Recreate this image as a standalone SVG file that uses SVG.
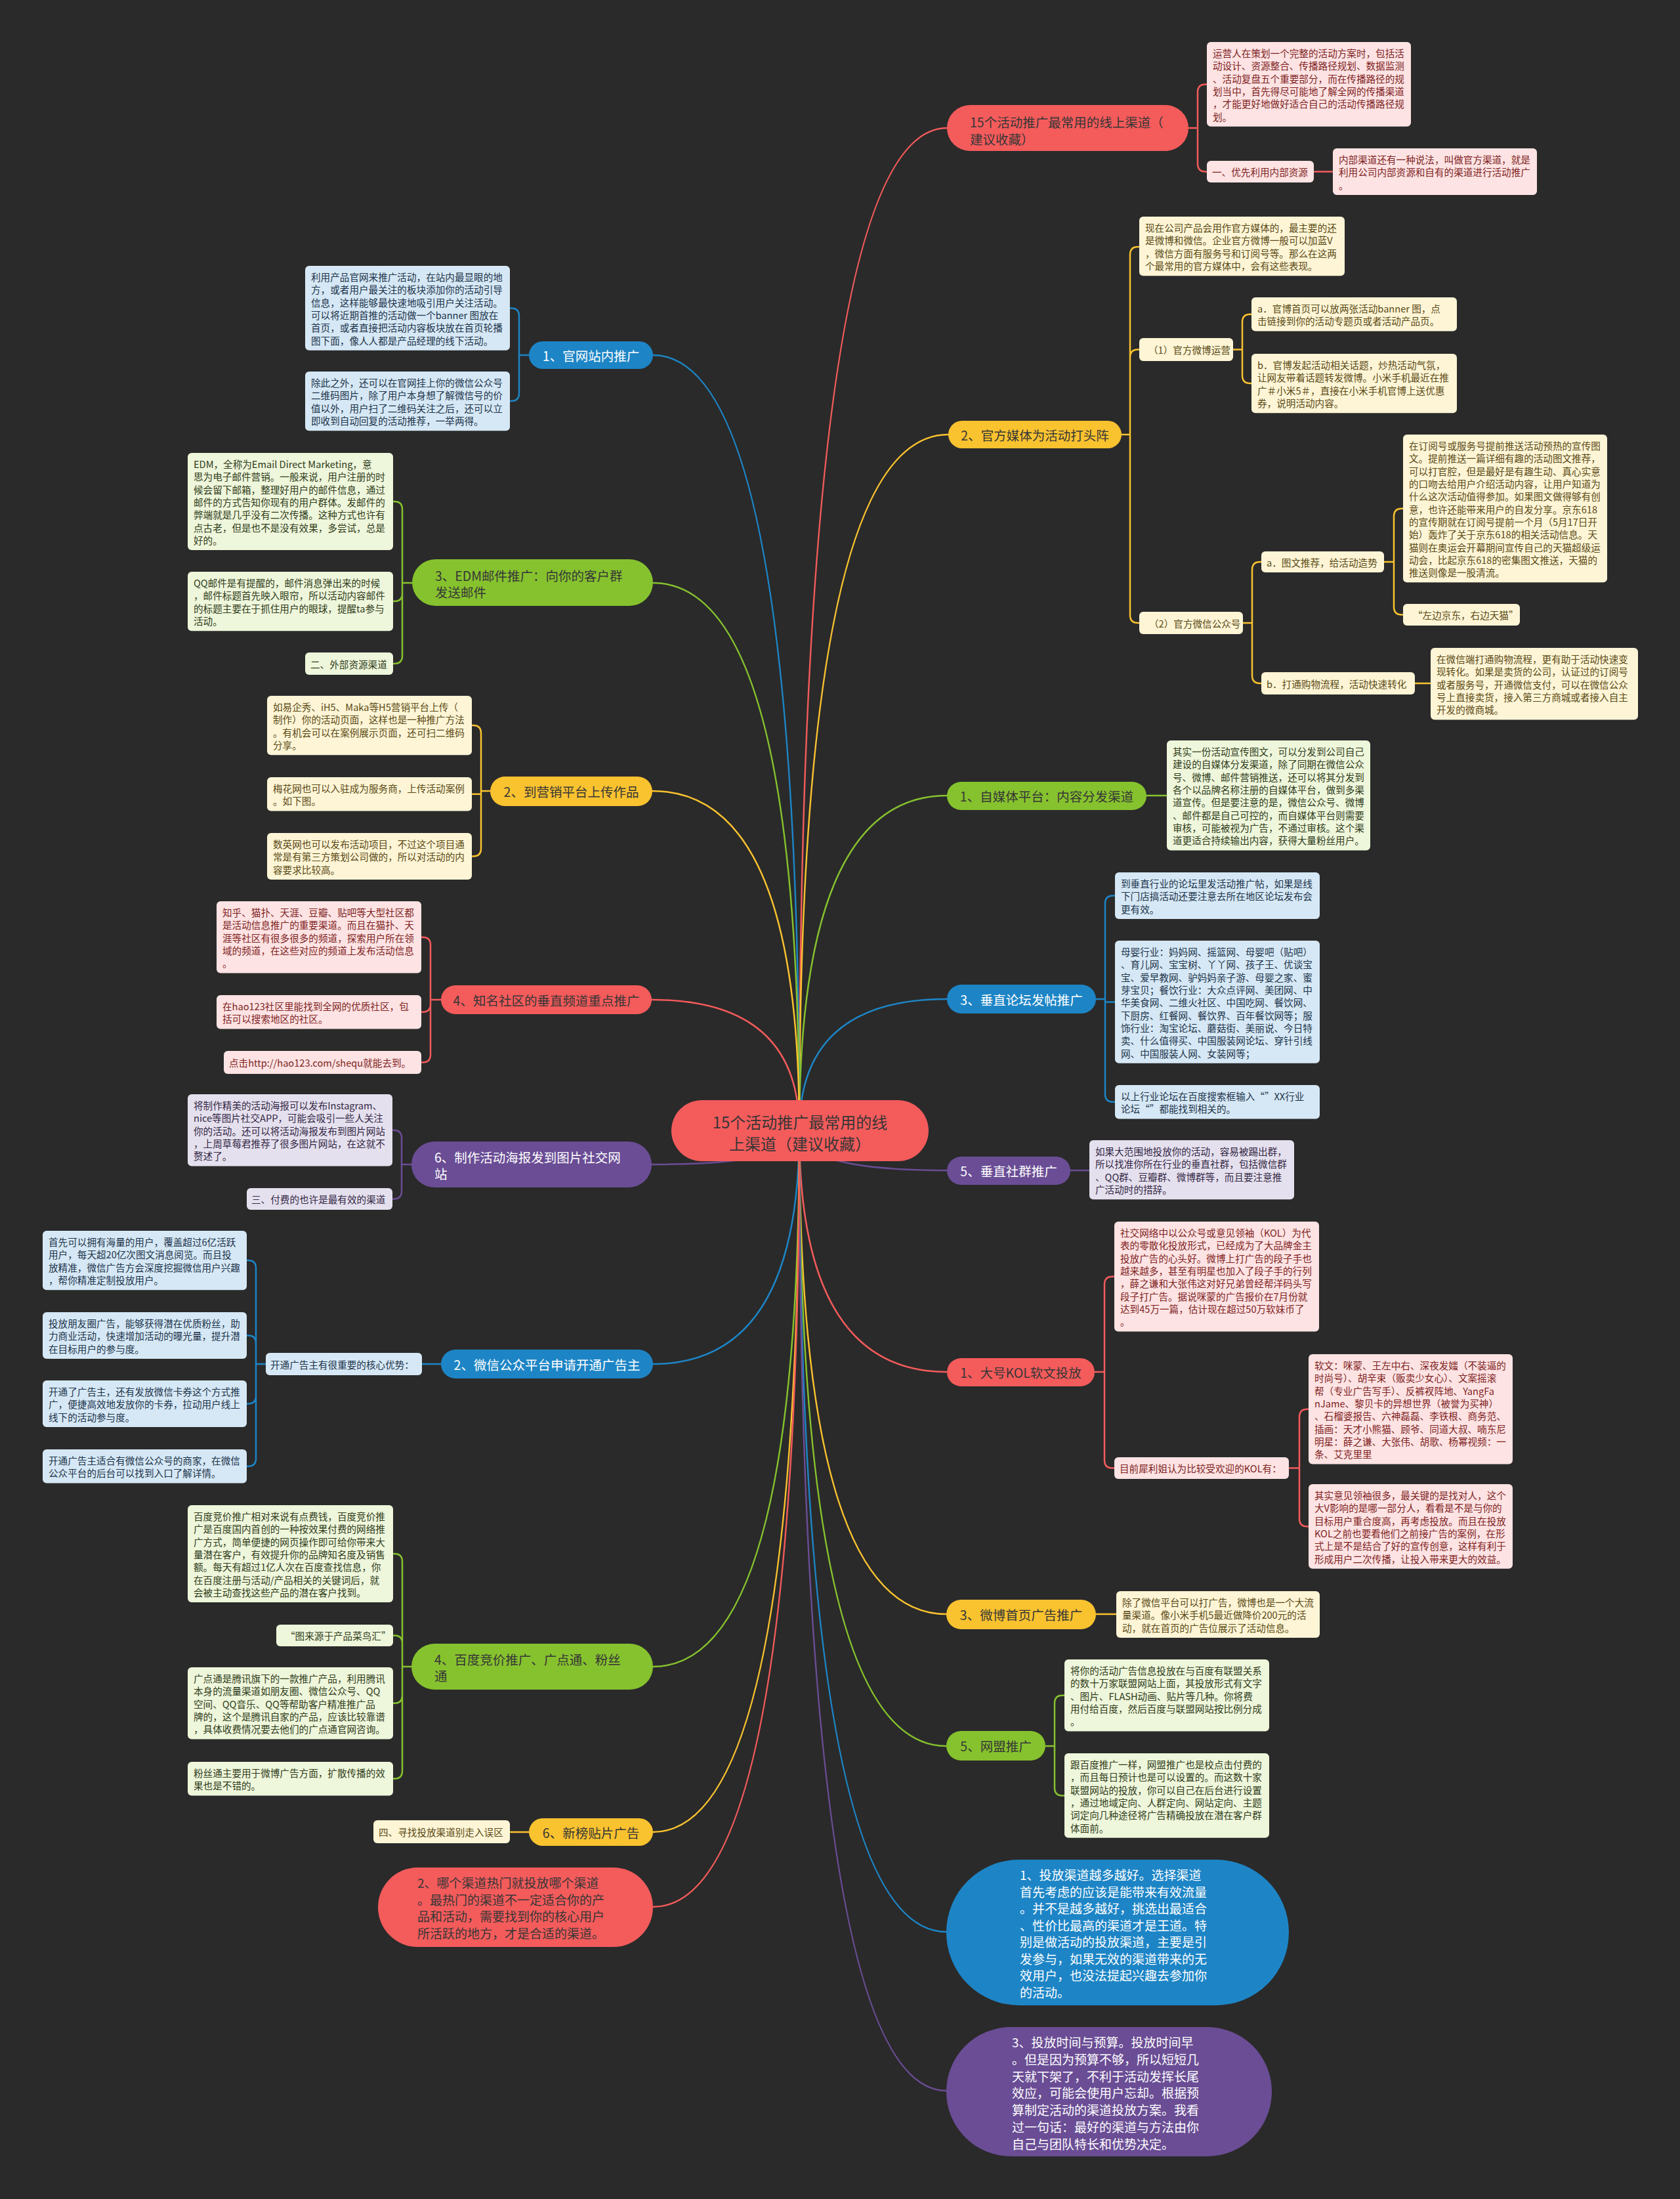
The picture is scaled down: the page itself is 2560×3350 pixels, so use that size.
<svg xmlns="http://www.w3.org/2000/svg" width="2560" height="3350" viewBox="0 0 2560 3350">
<style>
text{font-family:'Noto Sans CJK SC','Noto Sans',sans-serif;dominant-baseline:central}
.nt{font-size:14.6px}
.bt{font-size:19.5px}
.ct{font-size:24px}
.bb{font-size:19px}
.br{fill:#f45b5b}.by{fill:#f9c22f}.bgr{fill:#86c22e}.bbl{fill:#1d85c6}.bp{fill:#6a4d95}
.dk{fill:#363636}.wh{fill:#ffffff}
.fr{fill:#fde3e3}.fy{fill:#fdf5d6}.fg{fill:#eef6db}.fb{fill:#d6e8f5}.fp{fill:#e5e0ee}
.tr{fill:#7e1f1f}.ty{fill:#5a4915}.tg{fill:#2f3b1a}.tb{fill:#1c334a}.tp{fill:#322744}
.c{fill:none;stroke-width:2.5;stroke-linecap:round}
.cr{stroke:#f45b5b}.cy{stroke:#f9c22f}.cg{stroke:#86c22e}.cb{stroke:#1d85c6}.cp{stroke:#6a4d95}
</style>
<rect x="0" y="0" width="2560" height="3350" fill="#2a2a2a"/>

<g id="connectors">
<!-- main -->
<path class="c cr" d="M1218,1722 Q1218,195 1443,195"/>
<path class="c cy" d="M1218,1722 Q1218,662 1445,662"/>
<path class="c cg" d="M1218,1722 Q1218,1212 1443,1212"/>
<path class="c cb" d="M1218,1722 Q1218,1522 1443,1522"/>
<path class="c cp" d="M1218,1722 Q1218,1783 1443,1783"/>
<path class="c cr" d="M1218,1722 Q1218,2090 1443,2090"/>
<path class="c cy" d="M1218,1722 Q1218,2459 1442,2459"/>
<path class="c cg" d="M1218,1722 Q1218,2660 1442,2660"/>
<path class="c cb" d="M1218,1722 Q1218,2943 1442,2943"/>
<path class="c cp" d="M1218,1722 Q1218,3185 1442,3185"/>
<path class="c cb" d="M1218,1722 Q1218,541 995,541"/>
<path class="c cg" d="M1218,1722 Q1218,888 995,888"/>
<path class="c cy" d="M1218,1722 Q1218,1205 994,1205"/>
<path class="c cr" d="M1218,1722 Q1218,1523 993,1523"/>
<path class="c cp" d="M1218,1722 Q1218,1774 993,1774"/>
<path class="c cb" d="M1218,1722 Q1218,2078 995,2078"/>
<path class="c cg" d="M1218,1722 Q1218,2539 995,2539"/>
<path class="c cy" d="M1218,1722 Q1218,2791 995,2791"/>
<path class="c cr" d="M1218,1722 Q1218,2905 995,2905"/>
<!-- R1 -->
<path class="c cr" d="M1811,195 H1825 M1825,195 V140.5 Q1825,128.5 1837,128.5 H1839 M1825,195 V249.5 Q1825,261.5 1837,261.5 H1839 M2002,261.5 H2031"/>
<!-- R2 -->
<path class="c cy" d="M1709,662 H1722 M1722,662 V388 Q1722,376 1734,376 H1736 M1722,662 V544.5 Q1722,532.5 1734,532.5 H1736 M1722,662 V937 Q1722,949 1734,949 H1736"/>
<path class="c cy" d="M1879,532.5 H1893 M1893,532.5 V490.8 Q1893,478.8 1905,478.8 H1907 M1893,532.5 V572 Q1893,584 1905,584 H1907"/>
<path class="c cy" d="M1894,949 H1908 M1908,949 V868 Q1908,856 1920,856 H1922 M1908,949 V1029 Q1908,1041 1920,1041 H1922"/>
<path class="c cy" d="M2109,856 H2124 M2124,856 V786.7 Q2124,774.7 2136,774.7 H2138 M2124,856 V924.5 Q2124,936.5 2136,936.5 H2138 M2156,1041 H2180"/>
<!-- R3 -->
<path class="c cg" d="M1747,1212 H1778"/>
<!-- R4 -->
<path class="c cb" d="M1670,1522 H1684 M1684,1522 V1376.5 Q1684,1364.5 1696,1364.5 H1699 M1684,1522 V1526.4 H1699 M1684,1522 V1666.8 Q1684,1678.8 1696,1678.8 H1699"/>
<!-- R5 -->
<path class="c cp" d="M1631,1783 H1660"/>
<!-- R6 -->
<path class="c cr" d="M1668,2090 H1683 M1683,2090 V1956.7 Q1683,1944.7 1695,1944.7 H1698 M1683,2090 V2224.5 Q1683,2236.5 1695,2236.5 H1698"/>
<path class="c cr" d="M1964,2236.5 H1980 M1980,2236.5 V2158.7 Q1980,2146.7 1992,2146.7 H1994 M1980,2236.5 V2313.4 Q1980,2325.4 1992,2325.4 H1994"/>
<!-- R7 -->
<path class="c cy" d="M1670,2459 H1701"/>
<!-- R8 -->
<path class="c cg" d="M1593,2660 H1607 M1607,2660 V2594.8 Q1607,2582.8 1619,2582.8 H1622 M1607,2660 V2723.4 Q1607,2735.4 1619,2735.4 H1622"/>
<!-- L1 -->
<path class="c cb" d="M806,541 H791 M791,541 V481.4 Q791,469.4 779,469.4 H777 M791,541 V599.1 Q791,611.1 779,611.1 H777"/>
<!-- L2 -->
<path class="c cg" d="M628,888 H613 M613,888 V776 Q613,764 601,764 H599 M613,888 V904.1 Q613,916.1 601,916.1 H599 M613,888 V999 Q613,1011 601,1011 H599"/>
<!-- L3 -->
<path class="c cy" d="M747,1205 H733 M733,1205 V1117.1 Q733,1105.1 721,1105.1 H719 M733,1205 V1209.8 H719 M733,1205 V1292.5 Q733,1304.5 721,1304.5 H719"/>
<!-- L4 -->
<path class="c cr" d="M672,1523 H656 M656,1523 V1439.8 Q656,1427.8 644,1427.8 H642 M656,1523 V1529.8 Q656,1541.8 644,1541.8 H642 M656,1523 V1606.5 Q656,1618.5 644,1618.5 H642"/>
<!-- L5 -->
<path class="c cp" d="M627,1774 H612 M612,1774 V1733.8 Q612,1721.8 600,1721.8 H598 M612,1774 V1814.5 Q612,1826.5 600,1826.5 H598"/>
<!-- L6 -->
<path class="c cb" d="M672,2078 H643 M405,2078 H390 M390,2078 V1932.1 Q390,1920.1 378,1920.1 H376 M390,2078 V2046.5 Q390,2034.5 378,2034.5 H376 M390,2078 V2126.5 Q390,2138.5 378,2138.5 H376 M390,2078 V2221.8 Q390,2233.8 378,2233.8 H376"/>
<!-- L7 -->
<path class="c cg" d="M627,2539 H613 M613,2539 V2379 Q613,2367 601,2367 H599 M613,2539 V2503.5 Q613,2491.5 601,2491.5 H599 M613,2539 V2582.8 Q613,2594.8 601,2594.8 H599 M613,2539 V2697.8 Q613,2709.8 601,2709.8 H599"/>
<!-- L8 -->
<path class="c cy" d="M806,2791 H777"/>
</g>

<g id="center">
<rect class="br" x="1023" y="1676" width="392" height="93" rx="46.5"/>
<text class="ct dk" text-anchor="middle"><tspan x="1219" y="1708">15个活动推广最常用的线</tspan><tspan x="1219" y="1741">上渠道（建议收藏）</tspan></text>
</g>

<!-- ========== RIGHT ========== -->
<g id="r1">
<rect class="br" x="1443" y="160" width="368" height="70" rx="35"/>
<text class="bt dk"><tspan x="1478" y="185">15个活动推广最常用的线上渠道（</tspan><tspan x="1478" y="211">建议收藏）</tspan></text>
</g>
<g id="r1-n1">
<rect class="fr" x="1839" y="64" width="311" height="128.8" rx="6"/>
<text class="nt tr"><tspan x="1848" y="80.15">运营人在策划一个完整的活动方案时，包括活</tspan><tspan x="1848" dy="19.3">动设计、资源整合、传播路径规划、数据监测</tspan><tspan x="1848" dy="19.3">、活动复盘五个重要部分，而在传播路径的规</tspan><tspan x="1848" dy="19.3">划当中，首先得尽可能地了解全网的传播渠道</tspan><tspan x="1848" dy="19.3">，才能更好地做好适合自己的活动传播路径规</tspan><tspan x="1848" dy="19.3">划。</tspan></text>
</g>
<g id="r1-l1">
<rect class="fr" x="1839" y="245" width="163" height="33" rx="6"/>
<text class="nt tr" x="1847" y="261.5">一、优先利用内部资源</text>
</g>
<g id="r1-l1-n1">
<rect class="fr" x="2031" y="226" width="311" height="70.9" rx="6"/>
<text class="nt tr"><tspan x="2040" y="242.15">内部渠道还有一种说法，叫做官方渠道，就是</tspan><tspan x="2040" dy="19.3">利用公司内部资源和自有的渠道进行活动推广</tspan><tspan x="2040" dy="19.3">。</tspan></text>
</g>

<g id="r2">
<rect class="by" x="1445" y="641" width="264" height="42" rx="21"/>
<text class="bt dk" x="1577" y="662" text-anchor="middle">2、官方媒体为活动打头阵</text>
</g>
<g id="r2-n1">
<rect class="fy" x="1736" y="330" width="313" height="90.2" rx="6"/>
<text class="nt ty"><tspan x="1745" y="346.15">现在公司产品会用作官方媒体的，最主要的还</tspan><tspan x="1745" dy="19.3">是微博和微信。企业官方微博一般可以加蓝V</tspan><tspan x="1745" dy="19.3">，微信方面有服务号和订阅号等。那么在这两</tspan><tspan x="1745" dy="19.3">个最常用的官方媒体中，会有这些表现。</tspan></text>
</g>
<g id="r2-l1">
<rect class="fy" x="1736" y="515" width="143" height="35" rx="6"/>
<text class="nt ty" x="1750" y="532.5">（1）官方微博运营</text>
</g>
<g id="r2-l1-a">
<rect class="fy" x="1907" y="453" width="313" height="51.6" rx="6"/>
<text class="nt ty"><tspan x="1916" y="469.15">a．官博首页可以放两张活动banner 图，点</tspan><tspan x="1916" dy="19.3">击链接到你的活动专题页或者活动产品页。</tspan></text>
</g>
<g id="r2-l1-b">
<rect class="fy" x="1907" y="539" width="313" height="90.2" rx="6"/>
<text class="nt ty"><tspan x="1916" y="555.15">b．官博发起活动相关话题，炒热活动气氛，</tspan><tspan x="1916" dy="19.3">让网友带着话题转发微博。小米手机最近在推</tspan><tspan x="1916" dy="19.3">广＃小米5＃，直接在小米手机官博上送优惠</tspan><tspan x="1916" dy="19.3">券，说明活动内容。</tspan></text>
</g>
<g id="r2-l2">
<rect class="fy" x="1736" y="932" width="158" height="34" rx="6"/>
<text class="nt ty" x="1751" y="949">（2）官方微信公众号</text>
</g>
<g id="r2-l2-a">
<rect class="fy" x="1922" y="840" width="187" height="32" rx="6"/>
<text class="nt ty" x="1930" y="856">a．图文推荐，给活动造势</text>
</g>
<g id="r2-l2-a-n1">
<rect class="fy" x="2138" y="662" width="311" height="225.3" rx="6"/>
<text class="nt ty"><tspan x="2147" y="678.15">在订阅号或服务号提前推送活动预热的宣传图</tspan><tspan x="2147" dy="19.3">文。提前推送一篇详细有趣的活动图文推荐，</tspan><tspan x="2147" dy="19.3">可以打官腔，但是最好是有趣生动、真心实意</tspan><tspan x="2147" dy="19.3">的口吻去给用户介绍活动内容，让用户知道为</tspan><tspan x="2147" dy="19.3">什么这次活动值得参加。如果图文做得够有创</tspan><tspan x="2147" dy="19.3">意，也许还能带来用户的自发分享。京东618</tspan><tspan x="2147" dy="19.3">的宣传期就在订阅号提前一个月（5月17日开</tspan><tspan x="2147" dy="19.3">始）轰炸了关于京东618的相关活动信息。天</tspan><tspan x="2147" dy="19.3">猫则在奥运会开幕期间宣传自己的天猫超级运</tspan><tspan x="2147" dy="19.3">动会，比起京东618的密集图文推送，天猫的</tspan><tspan x="2147" dy="19.3">推送则像是一股清流。</tspan></text>
</g>
<g id="r2-l2-a-n2">
<rect class="fy" x="2138" y="920" width="178" height="33" rx="6"/>
<text class="nt ty" x="2153" y="936.5">“左边京东，右边天猫”</text>
</g>
<g id="r2-l2-b">
<rect class="fy" x="1922" y="1024" width="234" height="34" rx="6"/>
<text class="nt ty" x="1930" y="1041">b．打通购物流程，活动快速转化</text>
</g>
<g id="r2-l2-b-n1">
<rect class="fy" x="2180" y="987" width="316" height="109.5" rx="6"/>
<text class="nt ty"><tspan x="2189" y="1003.15">在微信端打通购物流程，更有助于活动快速变</tspan><tspan x="2189" dy="19.3">现转化。如果是卖货的公司，认证过的订阅号</tspan><tspan x="2189" dy="19.3">或者服务号，开通微信支付，可以在微信公众</tspan><tspan x="2189" dy="19.3">号上直接卖货，接入第三方商城或者接入自主</tspan><tspan x="2189" dy="19.3">开发的微商城。</tspan></text>
</g>

<g id="r3">
<rect class="bgr" x="1443" y="1191" width="304" height="43" rx="21.5"/>
<text class="bt dk" x="1595" y="1212.5" text-anchor="middle">1、自媒体平台：内容分发渠道</text>
</g>
<g id="r3-n1">
<rect class="fg" x="1778" y="1128" width="310" height="167.4" rx="6"/>
<text class="nt tg"><tspan x="1787" y="1144.15">其实一份活动宣传图文，可以分发到公司自己</tspan><tspan x="1787" dy="19.3">建设的自媒体分发渠道，除了同期在微信公众</tspan><tspan x="1787" dy="19.3">号、微博、邮件营销推送，还可以将其分发到</tspan><tspan x="1787" dy="19.3">各个以品牌名称注册的自媒体平台，做到多渠</tspan><tspan x="1787" dy="19.3">道宣传。但是要注意的是，微信公众号、微博</tspan><tspan x="1787" dy="19.3">、邮件都是自己可控的，而自媒体平台则需要</tspan><tspan x="1787" dy="19.3">审核，可能被视为广告，不通过审核。这个渠</tspan><tspan x="1787" dy="19.3">道更适合持续输出内容，获得大量粉丝用户。</tspan></text>
</g>

<g id="r4">
<rect class="bbl" x="1443" y="1500" width="227" height="44" rx="22"/>
<text class="bt wh" x="1556.5" y="1522" text-anchor="middle">3、垂直论坛发帖推广</text>
</g>
<g id="r4-n1">
<rect class="fb" x="1699" y="1329" width="312" height="70.9" rx="6"/>
<text class="nt tb"><tspan x="1708" y="1345.15">到垂直行业的论坛里发活动推广帖，如果是线</tspan><tspan x="1708" dy="19.3">下门店搞活动还要注意去所在地区论坛发布会</tspan><tspan x="1708" dy="19.3">更有效。</tspan></text>
</g>
<g id="r4-n2">
<rect class="fb" x="1699" y="1433" width="312" height="186.7" rx="6"/>
<text class="nt tb"><tspan x="1708" y="1449.15">母婴行业：妈妈网、摇篮网、母婴吧（贴吧）</tspan><tspan x="1708" dy="19.3">、育儿网、宝宝树、丫丫网、孩子王、优谈宝</tspan><tspan x="1708" dy="19.3">宝、爱早教网、驴妈妈亲子游、母婴之家、蜜</tspan><tspan x="1708" dy="19.3">芽宝贝；餐饮行业：大众点评网、美团网、中</tspan><tspan x="1708" dy="19.3">华美食网、二维火社区、中国吃网、餐饮网、</tspan><tspan x="1708" dy="19.3">下厨房、红餐网、餐饮界、百年餐饮网等；服</tspan><tspan x="1708" dy="19.3">饰行业：淘宝论坛、蘑菇街、美丽说、今日特</tspan><tspan x="1708" dy="19.3">卖、什么值得买、中国服装网论坛、穿针引线</tspan><tspan x="1708" dy="19.3">网、中国服装人网、女装网等；</tspan></text>
</g>
<g id="r4-n3">
<rect class="fb" x="1699" y="1653" width="312" height="51.6" rx="6"/>
<text class="nt tb"><tspan x="1708" y="1669.15">以上行业论坛在百度搜索框输入“”XX行业</tspan><tspan x="1708" dy="19.3">论坛“”都能找到相关的。</tspan></text>
</g>

<g id="r5">
<rect class="bp" x="1443" y="1762" width="188" height="43" rx="21.5"/>
<text class="bt wh" x="1537" y="1783.5" text-anchor="middle">5、垂直社群推广</text>
</g>
<g id="r5-n1">
<rect class="fp" x="1660" y="1737" width="312" height="90.2" rx="6"/>
<text class="nt tp"><tspan x="1669" y="1753.15">如果大范围地投放你的活动，容易被踢出群，</tspan><tspan x="1669" dy="19.3">所以找准你所在行业的垂直社群，包括微信群</tspan><tspan x="1669" dy="19.3">、QQ群、豆瓣群、微博群等，而且要注意推</tspan><tspan x="1669" dy="19.3">广活动时的措辞。</tspan></text>
</g>

<g id="r6">
<rect class="br" x="1443" y="2069" width="225" height="43" rx="21.5"/>
<text class="bt dk" x="1555.5" y="2090.5" text-anchor="middle">1、大号KOL软文投放</text>
</g>
<g id="r6-n1">
<rect class="fr" x="1698" y="1861" width="312" height="167.4" rx="6"/>
<text class="nt tr"><tspan x="1707" y="1877.15">社交网络中以公众号或意见领袖（KOL）为代</tspan><tspan x="1707" dy="19.3">表的零散化投放形式，已经成为了大品牌金主</tspan><tspan x="1707" dy="19.3">投放广告的心头好。微博上打广告的段子手也</tspan><tspan x="1707" dy="19.3">越来越多，甚至有明星也加入了段子手的行列</tspan><tspan x="1707" dy="19.3">，薛之谦和大张伟这对好兄弟曾经帮洋码头写</tspan><tspan x="1707" dy="19.3">段子打广告。据说咪蒙的广告报价在7月份就</tspan><tspan x="1707" dy="19.3">达到45万一篇，估计现在超过50万软妹币了</tspan><tspan x="1707" dy="19.3">。</tspan></text>
</g>
<g id="r6-l1">
<rect class="fr" x="1698" y="2220" width="266" height="33" rx="6"/>
<text class="nt tr" x="1706" y="2236.5">目前犀利姐认为比较受欢迎的KOL有：</text>
</g>
<g id="r6-l1-n1">
<rect class="fr" x="1994" y="2063" width="311" height="167.4" rx="6"/>
<text class="nt tr"><tspan x="2003" y="2079.15">软文：咪蒙、王左中右、深夜发媸（不装逼的</tspan><tspan x="2003" dy="19.3">时尚号）、胡辛束（贩卖少女心）、文案摇滚</tspan><tspan x="2003" dy="19.3">帮（专业广告写手）、反裤衩阵地、YangFa</tspan><tspan x="2003" dy="19.3">nJame、黎贝卡的异想世界（被誉为买神）</tspan><tspan x="2003" dy="19.3">、石榴婆报告、六神磊磊、李铁根、商务范、</tspan><tspan x="2003" dy="19.3">插画：天才小熊猫、顾爷、同道大叔、喃东尼</tspan><tspan x="2003" dy="19.3">明星：薛之谦、大张伟、胡歌、杨幂视频：一</tspan><tspan x="2003" dy="19.3">条、艾克里里</tspan></text>
</g>
<g id="r6-l1-n2">
<rect class="fr" x="1994" y="2261" width="311" height="128.8" rx="6"/>
<text class="nt tr"><tspan x="2003" y="2277.15">其实意见领袖很多，最关键的是找对人，这个</tspan><tspan x="2003" dy="19.3">大V影响的是哪一部分人，看看是不是与你的</tspan><tspan x="2003" dy="19.3">目标用户重合度高，再考虑投放。而且在投放</tspan><tspan x="2003" dy="19.3">KOL之前也要看他们之前接广告的案例，在形</tspan><tspan x="2003" dy="19.3">式上是不是结合了好的宣传创意，这样有利于</tspan><tspan x="2003" dy="19.3">形成用户二次传播，让投入带来更大的效益。</tspan></text>
</g>

<g id="r7">
<rect class="by" x="1442" y="2437" width="228" height="45" rx="22.5"/>
<text class="bt dk" x="1556" y="2459.5" text-anchor="middle">3、微博首页广告推广</text>
</g>
<g id="r7-n1">
<rect class="fy" x="1701" y="2424" width="310" height="70.9" rx="6"/>
<text class="nt ty"><tspan x="1710" y="2440.15">除了微信平台可以打广告，微博也是一个大流</tspan><tspan x="1710" dy="19.3">量渠道。像小米手机5最近做降价200元的活</tspan><tspan x="1710" dy="19.3">动，就在首页的广告位展示了活动信息。</tspan></text>
</g>

<g id="r8">
<rect class="bgr" x="1442" y="2637" width="151" height="45" rx="22.5"/>
<text class="bt dk" x="1517.5" y="2659.5" text-anchor="middle">5、网盟推广</text>
</g>
<g id="r8-n1">
<rect class="fg" x="1622" y="2528" width="312" height="109.5" rx="6"/>
<text class="nt tg"><tspan x="1631" y="2544.15">将你的活动广告信息投放在与百度有联盟关系</tspan><tspan x="1631" dy="19.3">的数十万家联盟网站上面，其投放形式有文字</tspan><tspan x="1631" dy="19.3">、图片、FLASH动画、贴片等几种。你将费</tspan><tspan x="1631" dy="19.3">用付给百度，然后百度与联盟网站按比例分成</tspan><tspan x="1631" dy="19.3">。</tspan></text>
</g>
<g id="r8-n2">
<rect class="fg" x="1622" y="2671" width="312" height="128.8" rx="6"/>
<text class="nt tg"><tspan x="1631" y="2687.15">跟百度推广一样，网盟推广也是校点击付费的</tspan><tspan x="1631" dy="19.3">，而且每日预计也是可以设置的。而这数十家</tspan><tspan x="1631" dy="19.3">联盟网站的投放，你可以自己在后台进行设置</tspan><tspan x="1631" dy="19.3">，通过地域定向、人群定向、网站定向、主题</tspan><tspan x="1631" dy="19.3">词定向几种途径将广告精确投放在潜在客户群</tspan><tspan x="1631" dy="19.3">体面前。</tspan></text>
</g>

<g id="r9">
<rect class="bbl" x="1442" y="2833" width="522" height="222" rx="111"/>
<text class="bb wh"><tspan x="1554" y="2855">1、投放渠道越多越好。选择渠道</tspan><tspan x="1554" dy="25.5">首先考虑的应该是能带来有效流量</tspan><tspan x="1554" dy="25.5">。并不是越多越好，挑选出最适合</tspan><tspan x="1554" dy="25.5">、性价比最高的渠道才是王道。特</tspan><tspan x="1554" dy="25.5">别是做活动的投放渠道，主要是引</tspan><tspan x="1554" dy="25.5">发参与，如果无效的渠道带来的无</tspan><tspan x="1554" dy="25.5">效用户，也没法提起兴趣去参加你</tspan><tspan x="1554" dy="25.5">的活动。</tspan></text>
</g>
<g id="r10">
<rect class="bp" x="1442" y="3088" width="496" height="197" rx="98.5"/>
<text class="bb wh"><tspan x="1542" y="3110">3、投放时间与预算。投放时间早</tspan><tspan x="1542" dy="25.8">。但是因为预算不够，所以短短几</tspan><tspan x="1542" dy="25.8">天就下架了，不利于活动发挥长尾</tspan><tspan x="1542" dy="25.8">效应，可能会使用户忘却。根据预</tspan><tspan x="1542" dy="25.8">算制定活动的渠道投放方案。我看</tspan><tspan x="1542" dy="25.8">过一句话：最好的渠道与方法由你</tspan><tspan x="1542" dy="25.8">自己与团队特长和优势决定。</tspan></text>
</g>

<!-- ========== LEFT ========== -->
<g id="l1">
<rect class="bbl" x="806" y="520" width="189" height="42" rx="21"/>
<text class="bt wh" x="900.5" y="541" text-anchor="middle">1、官网站内推广</text>
</g>
<g id="l1-n1">
<rect class="fb" x="465" y="405" width="312" height="128.8" rx="6"/>
<text class="nt tb"><tspan x="474" y="421.15">利用产品官网来推广活动，在站内最显眼的地</tspan><tspan x="474" dy="19.3">方，或者用户最关注的板块添加你的活动引导</tspan><tspan x="474" dy="19.3">信息，这样能够最快速地吸引用户关注活动。</tspan><tspan x="474" dy="19.3">可以将近期首推的活动做一个banner 图放在</tspan><tspan x="474" dy="19.3">首页，或者直接把活动内容板块放在首页轮播</tspan><tspan x="474" dy="19.3">图下面，像人人都是产品经理的线下活动。</tspan></text>
</g>
<g id="l1-n2">
<rect class="fb" x="465" y="566" width="312" height="90.2" rx="6"/>
<text class="nt tb"><tspan x="474" y="582.15">除此之外，还可以在官网挂上你的微信公众号</tspan><tspan x="474" dy="19.3">二维码图片，除了用户本身想了解微信号的价</tspan><tspan x="474" dy="19.3">值以外，用户扫了二维码关注之后，还可以立</tspan><tspan x="474" dy="19.3">即收到自动回复的活动推荐，一举两得。</tspan></text>
</g>

<g id="l2">
<rect class="bgr" x="628" y="852" width="367" height="71" rx="35.5"/>
<text class="bt dk"><tspan x="663" y="876">3、EDM邮件推广：向你的客户群</tspan><tspan x="663" y="901">发送邮件</tspan></text>
</g>
<g id="l2-n1">
<rect class="fg" x="286" y="690" width="313" height="148.1" rx="6"/>
<text class="nt tg"><tspan x="295" y="706.15">EDM，全称为Email Direct Marketing，意</tspan><tspan x="295" dy="19.3">思为电子邮件营销。一般来说，用户注册的时</tspan><tspan x="295" dy="19.3">候会留下邮箱，整理好用户的邮件信息，通过</tspan><tspan x="295" dy="19.3">邮件的方式告知你现有的用户群体。发邮件的</tspan><tspan x="295" dy="19.3">弊端就是几乎没有二次传播。这种方式也许有</tspan><tspan x="295" dy="19.3">点古老，但是也不是没有效果，多尝试，总是</tspan><tspan x="295" dy="19.3">好的。</tspan></text>
</g>
<g id="l2-n2">
<rect class="fg" x="286" y="871" width="313" height="90.2" rx="6"/>
<text class="nt tg"><tspan x="295" y="887.15">QQ邮件是有提醒的，邮件消息弹出来的时候</tspan><tspan x="295" dy="19.3">，邮件标题首先映入眼帘，所以活动内容邮件</tspan><tspan x="295" dy="19.3">的标题主要在于抓住用户的眼球，提醒ta参与</tspan><tspan x="295" dy="19.3">活动。</tspan></text>
</g>
<g id="l2-l1">
<rect class="fg" x="465" y="994" width="134" height="34" rx="6"/>
<text class="nt tg" x="473" y="1011">二、外部资源渠道</text>
</g>

<g id="l3">
<rect class="by" x="747" y="1183" width="247" height="45" rx="22.5"/>
<text class="bt dk" x="870.5" y="1205.5" text-anchor="middle">2、到营销平台上传作品</text>
</g>
<g id="l3-n1">
<rect class="fy" x="407" y="1060" width="312" height="90.2" rx="6"/>
<text class="nt ty"><tspan x="416" y="1076.15">如易企秀、iH5、Maka等H5营销平台上传（</tspan><tspan x="416" dy="19.3">制作）你的活动页面，这样也是一种推广方法</tspan><tspan x="416" dy="19.3">。有机会可以在案例展示页面，还可扫二维码</tspan><tspan x="416" dy="19.3">分享。</tspan></text>
</g>
<g id="l3-n2">
<rect class="fy" x="407" y="1184" width="312" height="51.6" rx="6"/>
<text class="nt ty"><tspan x="416" y="1200.15">梅花网也可以入驻成为服务商，上传活动案例</tspan><tspan x="416" dy="19.3">。如下图。</tspan></text>
</g>
<g id="l3-n3">
<rect class="fy" x="407" y="1269" width="312" height="70.9" rx="6"/>
<text class="nt ty"><tspan x="416" y="1285.15">数英网也可以发布活动项目，不过这个项目通</tspan><tspan x="416" dy="19.3">常是有第三方策划公司做的，所以对活动的内</tspan><tspan x="416" dy="19.3">容要求比较高。</tspan></text>
</g>

<g id="l4">
<rect class="br" x="672" y="1501" width="321" height="44" rx="22"/>
<text class="bt dk" x="832.5" y="1523" text-anchor="middle">4、知名社区的垂直频道重点推广</text>
</g>
<g id="l4-n1">
<rect class="fr" x="330" y="1373" width="312" height="109.5" rx="6"/>
<text class="nt tr"><tspan x="339" y="1389.15">知乎、猫扑、天涯、豆瓣、贴吧等大型社区都</tspan><tspan x="339" dy="19.3">是活动信息推广的重要渠道。而且在猫扑、天</tspan><tspan x="339" dy="19.3">涯等社区有很多很多的频道，探索用户所在领</tspan><tspan x="339" dy="19.3">域的频道，在这些对应的频道上发布活动信息</tspan><tspan x="339" dy="19.3">。</tspan></text>
</g>
<g id="l4-n2">
<rect class="fr" x="330" y="1516" width="312" height="51.6" rx="6"/>
<text class="nt tr"><tspan x="339" y="1532.15">在hao123社区里能找到全网的优质社区，包</tspan><tspan x="339" dy="19.3">括可以搜索地区的社区。</tspan></text>
</g>
<g id="l4-n3">
<rect class="fr" x="341" y="1601" width="301" height="35" rx="6"/>
<text class="nt tr" x="349" y="1618.5">点击http://hao123.com/shequ就能去到。</text>
</g>

<g id="l5">
<rect class="bp" x="627" y="1739" width="366" height="70" rx="35"/>
<text class="bt wh"><tspan x="662" y="1762">6、制作活动海报发到图片社交网</tspan><tspan x="662" y="1787">站</tspan></text>
</g>
<g id="l5-n1">
<rect class="fp" x="286" y="1667" width="312" height="109.5" rx="6"/>
<text class="nt tp"><tspan x="295" y="1683.15">将制作精美的活动海报可以发布Instagram、</tspan><tspan x="295" dy="19.3">nice等图片社交APP，可能会吸引一些人关注</tspan><tspan x="295" dy="19.3">你的活动。还可以将活动海报发布到图片网站</tspan><tspan x="295" dy="19.3">，上周草莓君推荐了很多图片网站，在这就不</tspan><tspan x="295" dy="19.3">赘述了。</tspan></text>
</g>
<g id="l5-l1">
<rect class="fp" x="376" y="1810" width="222" height="33" rx="6"/>
<text class="nt tp" x="383" y="1826.5">三、付费的也许是最有效的渠道</text>
</g>

<g id="l6">
<rect class="bbl" x="672" y="2056" width="323" height="44" rx="22"/>
<text class="bt wh" x="833.5" y="2078" text-anchor="middle">2、微信公众平台申请开通广告主</text>
</g>
<g id="l6-l1">
<rect class="fb" x="405" y="2061" width="238" height="34" rx="6"/>
<text class="nt tb" x="412" y="2078">开通广告主有很重要的核心优势：</text>
</g>
<g id="l6-n1">
<rect class="fb" x="65" y="1875" width="311" height="90.2" rx="6"/>
<text class="nt tb"><tspan x="74" y="1891.15">首先可以拥有海量的用户，覆盖超过6亿活跃</tspan><tspan x="74" dy="19.3">用户，每天超20亿次图文消息阅览。而且投</tspan><tspan x="74" dy="19.3">放精准，微信广告方会深度挖掘微信用户兴趣</tspan><tspan x="74" dy="19.3">，帮你精准定制投放用户。</tspan></text>
</g>
<g id="l6-n2">
<rect class="fb" x="65" y="1999" width="311" height="70.9" rx="6"/>
<text class="nt tb"><tspan x="74" y="2015.15">投放朋友圈广告，能够获得潜在优质粉丝，助</tspan><tspan x="74" dy="19.3">力商业活动，快速增加活动的曝光量，提升潜</tspan><tspan x="74" dy="19.3">在目标用户的参与度。</tspan></text>
</g>
<g id="l6-n3">
<rect class="fb" x="65" y="2103" width="311" height="70.9" rx="6"/>
<text class="nt tb"><tspan x="74" y="2119.15">开通了广告主，还有发放微信卡券这个方式推</tspan><tspan x="74" dy="19.3">广，便捷高效地发放你的卡券，拉动用户线上</tspan><tspan x="74" dy="19.3">线下的活动参与度。</tspan></text>
</g>
<g id="l6-n4">
<rect class="fb" x="65" y="2208" width="311" height="51.6" rx="6"/>
<text class="nt tb"><tspan x="74" y="2224.15">开通广告主适合有微信公众号的商家，在微信</tspan><tspan x="74" dy="19.3">公众平台的后台可以找到入口了解详情。</tspan></text>
</g>

<g id="l7">
<rect class="bgr" x="627" y="2504" width="368" height="70" rx="35"/>
<text class="bt dk"><tspan x="662" y="2527">4、百度竞价推广、广点通、粉丝</tspan><tspan x="662" y="2552">通</tspan></text>
</g>
<g id="l7-n1">
<rect class="fg" x="286" y="2293" width="313" height="148.1" rx="6"/>
<text class="nt tg"><tspan x="295" y="2309.15">百度竞价推广相对来说有点费钱，百度竞价推</tspan><tspan x="295" dy="19.3">广是百度国内首创的一种按效果付费的网络推</tspan><tspan x="295" dy="19.3">广方式，简单便捷的网页操作即可给你带来大</tspan><tspan x="295" dy="19.3">量潜在客户，有效提升你的品牌知名度及销售</tspan><tspan x="295" dy="19.3">额。每天有超过1亿人次在百度查找信息，你</tspan><tspan x="295" dy="19.3">在百度注册与活动/产品相关的关键词后，就</tspan><tspan x="295" dy="19.3">会被主动查找这些产品的潜在客户找到。</tspan></text>
</g>
<g id="l7-l1">
<rect class="fg" x="421" y="2475" width="178" height="33" rx="6"/>
<text class="nt tg" x="435" y="2491.5">“图来源于产品菜鸟汇”</text>
</g>
<g id="l7-n3">
<rect class="fg" x="286" y="2540" width="313" height="109.5" rx="6"/>
<text class="nt tg"><tspan x="295" y="2556.15">广点通是腾讯旗下的一款推广产品，利用腾讯</tspan><tspan x="295" dy="19.3">本身的流量渠道如朋友圈、微信公众号、QQ</tspan><tspan x="295" dy="19.3">空间、QQ音乐、QQ等帮助客户精准推广品</tspan><tspan x="295" dy="19.3">牌的，这个是腾讯自家的产品，应该比较靠谱</tspan><tspan x="295" dy="19.3">，具体收费情况要去他们的广点通官网咨询。</tspan></text>
</g>
<g id="l7-n4">
<rect class="fg" x="286" y="2684" width="313" height="51.6" rx="6"/>
<text class="nt tg"><tspan x="295" y="2700.15">粉丝通主要用于微博广告方面，扩散传播的效</tspan><tspan x="295" dy="19.3">果也是不错的。</tspan></text>
</g>

<g id="l8">
<rect class="by" x="806" y="2770" width="189" height="42" rx="21"/>
<text class="bt dk" x="900.5" y="2791" text-anchor="middle">6、新榜贴片广告</text>
</g>
<g id="l8-l1">
<rect class="fy" x="569" y="2773" width="208" height="35" rx="6"/>
<text class="nt ty" x="577" y="2790.5">四、寻找投放渠道别走入误区</text>
</g>

<g id="l9">
<rect class="br" x="576" y="2845" width="419" height="121" rx="60.5"/>
<text class="bb dk"><tspan x="636" y="2867">2、哪个渠道热门就投放哪个渠道</tspan><tspan x="636" dy="25.5">。最热门的渠道不一定适合你的产</tspan><tspan x="636" dy="25.5">品和活动，需要找到你的核心用户</tspan><tspan x="636" dy="25.5">所活跃的地方，才是合适的渠道。</tspan></text>
</g>
</svg>
